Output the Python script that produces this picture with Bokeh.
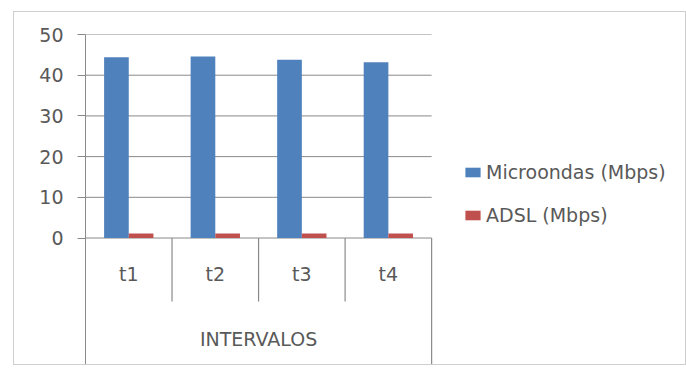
from bokeh.plotting import figure
from bokeh.models import (Range1d, FixedTicker, Legend, LegendItem,
                          ColumnDataSource)
from bokeh.core.properties import value
from bokeh.embed import file_html
from bokeh.resources import INLINE

# Data
categories = ["t1", "t2", "t3", "t4"]
group_title = "INTERVALOS"
microondas = [44.4, 44.6, 43.8, 43.2]
adsl = [1.1, 1.1, 1.1, 1.1]
y_ticks = [0, 10, 20, 30, 40, 50]
series_names = ["Microondas (Mbps)", "ADSL (Mbps)"]

FONT = "DejaVu Sans"
TEXT = "#595959"
LINE = "#8a8a8a"
BLUE = "#4F81BD"
RED = "#C0504D"

n = len(categories)
centers = [i + 0.5 for i in range(n)]
bar_w = 0.285
off = bar_w / 2

y_bottom = -31.07  # room under zero for the two-level category labels
x_end = 6.957      # frame continues to the right to hold the legend

p = figure(width=673, height=354, output_backend="svg", toolbar_location=None,
           x_range=Range1d(0, x_end), y_range=Range1d(y_bottom, 50),
           x_axis_location=None, min_border_left=71, min_border_right=0,
           min_border_top=22, min_border_bottom=2)
p.margin = (11, 0, 5, 13)
p.styles = {"border": "1px solid #cfcfcf", "box-sizing": "border-box"}
p.outline_line_color = None
p.background_fill_color = "white"
p.border_fill_color = "white"

# value axis
yax = p.yaxis[0]
yax.ticker = FixedTicker(ticks=y_ticks)
yax.axis_line_color = LINE
yax.major_tick_line_color = LINE
yax.major_tick_out = 8
yax.major_tick_in = 0
yax.minor_tick_line_color = None
yax.major_label_standoff = 14
yax.major_label_text_font = FONT
yax.major_label_text_font_size = "19px"
yax.major_label_text_color = TEXT

p.xgrid.visible = False
p.ygrid.visible = False

# horizontal gridlines across the category area only
p.segment(x0=[0] * len(y_ticks), y0=y_ticks, x1=[n] * len(y_ticks), y1=y_ticks,
          line_color=LINE, line_width=1)

# bars
src = ColumnDataSource(dict(
    xm=[c - off for c in centers], xa=[c + off for c in centers],
    m=microondas, a=adsl))
r1 = p.vbar(x="xm", top="m", bottom=0, width=bar_w, source=src,
            fill_color=BLUE, line_color=None)
r2 = p.vbar(x="xa", top="a", bottom=0, width=bar_w, source=src,
            fill_color=RED, line_color=None)

# category separators below the axis
div_len = 15.6
p.segment(x0=list(range(1, n)), y0=[0] * (n - 1), x1=list(range(1, n)),
          y1=[-div_len] * (n - 1), line_color=LINE, line_width=1.2)
p.segment(x0=[n], y0=[0], x1=[n], y1=[y_bottom], line_color=LINE, line_width=1.2)

# category labels and group title
p.text(x=centers, y=[-8.8] * n, text=categories, text_font=value(FONT),
       text_font_size="19px", text_color=TEXT, text_align="center",
       text_baseline="middle")
p.text(x=[n / 2], y=[-24.8], text=[group_title], text_font=value(FONT),
       text_font_size="19px", text_color=TEXT, text_align="center",
       text_baseline="middle")

legend = Legend(items=[LegendItem(label=series_names[0], renderers=[r1]),
                       LegendItem(label=series_names[1], renderers=[r2])],
                location=(378, 138), padding=0, margin=0, spacing=21,
                glyph_width=19, glyph_height=12, label_standoff=4,
                label_height=20, label_text_font=FONT,
                label_text_font_size="19px", label_text_color=TEXT,
                border_line_color=None, background_fill_alpha=0)
p.add_layout(legend)

open("out.html", "w").write(file_html(p, INLINE))
